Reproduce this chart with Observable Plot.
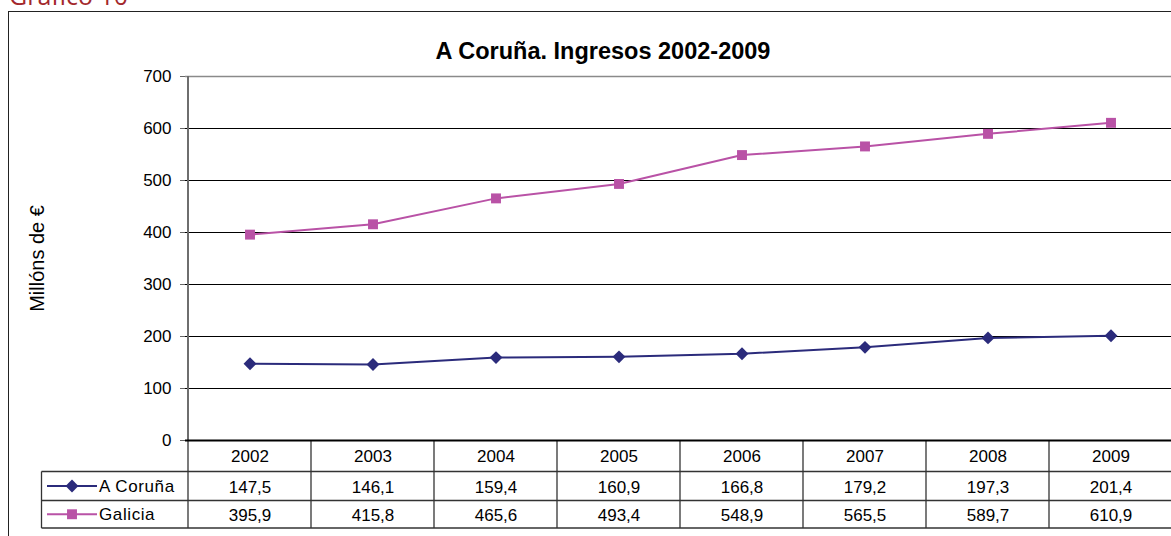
<!DOCTYPE html>
<html><head><meta charset="utf-8">
<script src="https://cdn.jsdelivr.net/npm/d3@7"></script>
<script src="https://cdn.jsdelivr.net/npm/@observablehq/plot@0.6"></script>
<style>
html,body{margin:0;padding:0;background:#fff;overflow:hidden}
#wrap{position:relative;width:1171px;height:536px;overflow:hidden}
#frame{position:absolute;left:8px;top:11px;width:1300px;height:700px;border:1.5px solid #222;box-sizing:border-box}
#head{position:absolute;left:0;top:0}
#chart{position:absolute;left:0;top:0;width:1174px}
#chart svg{max-width:none !important}
</style></head><body>
<div id="wrap">
<svg id="head" width="400" height="20"><text x="9" y="5" fill="#a3282c" font-family="Open Sans" font-size="25">Gráfico 10</text></svg>
<div id="frame"></div>
<div id="chart"></div>
</div>
<script>
const years = ["2002","2003","2004","2005","2006","2007","2008","2009"];
const coruna = [147.5,146.1,159.4,160.9,166.8,179.2,197.3,201.4];
const galicia = [395.9,415.8,465.6,493.4,548.9,565.5,589.7,610.9];
const seriesNames = ["A Coruña","Galicia"];
const yTicks = [0,100,200,300,400,500,600,700];
const chartTitle = "A Coruña. Ingresos 2002-2009";
const yLabel = "Millóns de €";
const navy = "#2b2b7b";
const magenta = "#b952a6";

const corunaRows = years.map((y,i)=>({year:y, series:seriesNames[0], value:coruna[i]}));
const galiciaRows = years.map((y,i)=>({year:y, series:seriesNames[1], value:galicia[i]}));
const fmt = v => v.toFixed(1).replace(".", ",");
const FONT = "Liberation Sans, Arial, sans-serif";

function tableMark(index, scales, values, dim) {
  const x = scales.x, y = scales.y;
  const bw = typeof x.bandwidth === "function" ? x.bandwidth() : x.bandwidth;
  const y0 = y(0), yTop = y(700);
  const r1 = y0 + 31.5, r2 = y0 + 60.5, r3 = y0 + 88;
  const left = 41.5;
  const right = x(years[years.length-1]) + bw;
  const g = d3.create("svg:g").attr("fill","none");
  g.append("line").attr("x1",x(years[0])).attr("x2",x(years[0])).attr("y1",yTop).attr("y2",y0)
    .attr("stroke","#6e6e6e").attr("stroke-width",2);
  const t = g.append("g").attr("stroke","#333").attr("stroke-width",1.3);
  years.forEach(yr => { const xx = x(yr); t.append("line").attr("x1",xx).attr("x2",xx).attr("y1",y0).attr("y2",r3); });
  t.append("line").attr("x1",right).attr("x2",right).attr("y1",y0).attr("y2",r3);
  [r1,r2,r3].forEach(yy => t.append("line").attr("x1",left).attr("x2",right).attr("y1",yy).attr("y2",yy));
  t.append("line").attr("x1",left).attr("x2",left).attr("y1",r1).attr("y2",r3);
  const leg = [
    {name:seriesNames[0], color:navy, sym:d3.symbolDiamond2, r:5.8, cy:(r1+r2)/2},
    {name:seriesNames[1], color:magenta, sym:d3.symbolSquare, r:5.6, cy:(r2+r3)/2}
  ];
  leg.forEach(l => {
    g.append("line").attr("x1",47).attr("x2",97).attr("y1",l.cy).attr("y2",l.cy).attr("stroke",l.color).attr("stroke-width",2);
    g.append("path").attr("d", d3.symbol(l.sym, Math.PI*l.r*l.r)()).attr("transform",`translate(72,${l.cy})`).attr("fill",l.color);
    g.append("text").attr("x",99).attr("y",l.cy).attr("dy","0.36em").attr("fill","#000").attr("text-anchor","start")
      .attr("font-family",FONT).attr("font-size",17).attr("letter-spacing","0.6px").text(l.name);
  });
  return g.node();
}

const chart = Plot.plot({
  width: 1174, height: 536,
  marginTop: 76, marginBottom: 96, marginLeft: 185, marginRight: 0,
  style: {fontFamily: FONT, fontSize: "17px", color: "#000", background: "transparent", overflow: "visible", maxWidth: "none"},
  x: {type: "band", domain: years, padding: 0, axis: null},
  y: {domain: [0,700], label: null, axis: null},
  marks: [
    Plot.ruleY(yTicks.filter(t => t > 0 && t < 700), {stroke: "#000", strokeWidth: 1}),
    Plot.ruleY([700], {stroke: "#8a8a8a", strokeWidth: 1.5}),
    Plot.axisY(yTicks, {tickSize: 5, tickPadding: 9, fontSize: 17, stroke: "#666", label: null}),
    tableMark,
    Plot.ruleY([0], {stroke: "#000", strokeWidth: 1.8}),
    Plot.line(corunaRows, {x: "year", y: "value", stroke: navy, strokeWidth: 2}),
    Plot.dot(corunaRows, {x: "year", y: "value", symbol: "diamond2", r: 5.8, fill: navy, stroke: "none"}),
    Plot.line(galiciaRows, {x: "year", y: "value", stroke: magenta, strokeWidth: 2}),
    Plot.dot(galiciaRows, {x: "year", y: "value", symbol: "square", r: 5.6, fill: magenta, stroke: "none"}),
    Plot.text(years, {x: d => d, frameAnchor: "bottom", lineAnchor: "middle", dy: 16, text: d => d, fontSize: 17}),
    Plot.text(corunaRows, {x: "year", frameAnchor: "bottom", lineAnchor: "middle", dy: 47, text: d => fmt(d.value), fontSize: 17}),
    Plot.text(galiciaRows, {x: "year", frameAnchor: "bottom", lineAnchor: "middle", dy: 75.5, text: d => fmt(d.value), fontSize: 17}),
    Plot.text([yLabel], {frameAnchor: "left", textAnchor: "middle", lineAnchor: "middle", rotate: -90, dx: -148, text: d => d, fontSize: 20}),
    Plot.text([chartTitle], {frameAnchor: "top", textAnchor: "middle", lineAnchor: "middle", dx: -77, dy: -25, text: d => d, fontSize: 23.5, fontWeight: "bold"})
  ]
});
document.getElementById("chart").appendChild(chart);
</script>
</body></html>
